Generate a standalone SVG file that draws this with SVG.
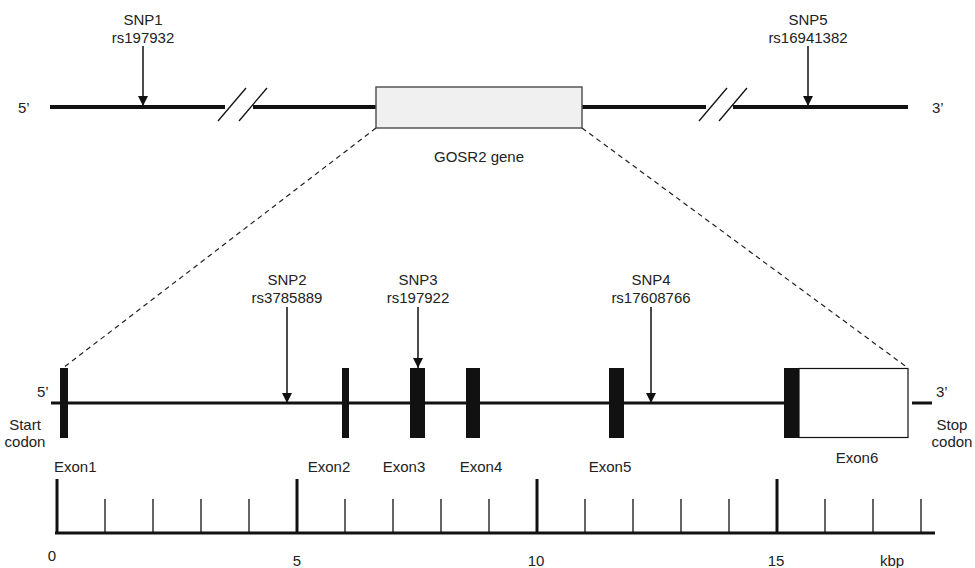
<svg xmlns="http://www.w3.org/2000/svg" width="975" height="568" viewBox="0 0 975 568">
<defs>
<marker id="ah" markerWidth="10" markerHeight="10" refX="10" refY="5" orient="auto" markerUnits="userSpaceOnUse" viewBox="0 0 10 10">
<path d="M0,0 L10,5 L0,10 Z" fill="#111"/>
</marker>
<style>
text{font-family:"Liberation Sans",Arial,sans-serif;font-size:15px;fill:#222}
.c{text-anchor:middle}
.thick{stroke:#111;stroke-width:4;fill:none}
.mid{stroke:#111;stroke-width:3;fill:none}
.thin{stroke:#111;stroke-width:1.3;fill:none}
.arrow{stroke:#111;stroke-width:1.5;fill:none}
.dash{stroke:#222;stroke-width:1.2;stroke-dasharray:5,4;fill:none}
.exon{fill:#111}
</style>
</defs>
<g id="chromosome">
<line class="thick" x1="50" y1="107" x2="225" y2="107"/>
<line class="thick" x1="253" y1="107" x2="376" y2="107"/>
<line class="thick" x1="582" y1="107" x2="706" y2="107"/>
<line class="thick" x1="733" y1="107" x2="908" y2="107"/>
<line class="thin" x1="218" y1="121" x2="246" y2="88"/>
<line class="thin" x1="239" y1="121" x2="267" y2="88"/>
<line class="thin" x1="699" y1="121" x2="727" y2="88"/>
<line class="thin" x1="719" y1="121" x2="747" y2="88"/>
<text x="18" y="113">5’</text>
<text x="932" y="113">3’</text>
</g>
<g id="gosr2-gene">
<rect x="376" y="87" width="206" height="41" fill="#f0f0f0" stroke="#555" stroke-width="1.5"/>
<text class="c" x="479" y="162">GOSR2 gene</text>
</g>
<g id="snp1">
<text class="c" x="143" y="25">SNP1</text>
<text class="c" x="143" y="43">rs197932</text>
</g>
<g id="snp5">
<text class="c" x="808" y="25">SNP5</text>
<text class="c" x="808" y="43">rs16941382</text>
</g>
<g id="gene-structure">
<line class="mid" x1="51" y1="403" x2="785" y2="403"/>
<line class="mid" x1="912" y1="403" x2="932" y2="403"/>
<text x="37" y="397">5’</text>
<text x="936" y="397">3’</text>
<text class="c" x="25" y="430">Start</text>
<text class="c" x="25" y="447">codon</text>
<text class="c" x="952" y="430">Stop</text>
<text class="c" x="952" y="447">codon</text>
</g>
<g id="exon1"><rect class="exon" x="60" y="368" width="8" height="70"/><text x="54" y="472">Exon1</text></g>
<g id="exon2"><rect class="exon" x="342" y="368" width="7" height="70"/><text class="c" x="329" y="472">Exon2</text></g>
<g id="exon3"><rect class="exon" x="410" y="368" width="15" height="70"/><text class="c" x="404" y="472">Exon3</text></g>
<g id="exon4"><rect class="exon" x="466" y="368" width="14" height="70"/><text class="c" x="481" y="472">Exon4</text></g>
<g id="exon5"><rect class="exon" x="609" y="368" width="15" height="70"/><text class="c" x="610" y="472">Exon5</text></g>
<g id="exon6"><rect class="exon" x="784" y="368" width="15" height="70"/><rect x="799" y="368.5" width="109" height="69" fill="#fff" stroke="#111" stroke-width="1.2"/><text class="c" x="857" y="463">Exon6</text></g>
<g id="snp2"><text class="c" x="287" y="285">SNP2</text><text class="c" x="287" y="303">rs3785889</text></g>
<g id="snp3"><text class="c" x="418" y="285">SNP3</text><text class="c" x="418" y="303">rs197922</text></g>
<g id="snp4"><text class="c" x="651" y="285">SNP4</text><text class="c" x="651" y="303">rs17608766</text></g>
<g id="scale">
<line class="mid" x1="55" y1="533" x2="935" y2="533"/>
<g class="mid">
<line x1="57" y1="479" x2="57" y2="533"/>
<line x1="297" y1="479" x2="297" y2="533"/>
<line x1="537" y1="479" x2="537" y2="533"/>
<line x1="777" y1="479" x2="777" y2="533"/>
</g>
<g class="thin">
<line x1="105" y1="499" x2="105" y2="533"/><line x1="153" y1="499" x2="153" y2="533"/><line x1="201" y1="499" x2="201" y2="533"/><line x1="249" y1="499" x2="249" y2="533"/>
<line x1="345" y1="499" x2="345" y2="533"/><line x1="393" y1="499" x2="393" y2="533"/><line x1="441" y1="499" x2="441" y2="533"/><line x1="489" y1="499" x2="489" y2="533"/>
<line x1="585" y1="499" x2="585" y2="533"/><line x1="633" y1="499" x2="633" y2="533"/><line x1="681" y1="499" x2="681" y2="533"/><line x1="729" y1="499" x2="729" y2="533"/>
<line x1="825" y1="499" x2="825" y2="533"/><line x1="873" y1="499" x2="873" y2="533"/><line x1="921" y1="499" x2="921" y2="533"/>
</g>
<text class="c" x="52" y="561">0</text>
<text class="c" x="297" y="566">5</text>
<text class="c" x="536" y="566">10</text>
<text class="c" x="776" y="566">15</text>
<text class="c" x="892" y="566">kbp</text>
</g>
<g id="connectors">
<line class="dash" x1="376" y1="128" x2="63" y2="368"/>
<line class="dash" x1="582" y1="128" x2="908" y2="368"/>
<line class="arrow" x1="143" y1="46" x2="143" y2="106" marker-end="url(#ah)"/>
<line class="arrow" x1="808" y1="46" x2="808" y2="106" marker-end="url(#ah)"/>
<line class="arrow" x1="287" y1="307" x2="287" y2="403" marker-end="url(#ah)"/>
<line class="arrow" x1="418" y1="307" x2="418" y2="368" marker-end="url(#ah)"/>
<line class="arrow" x1="651" y1="307" x2="651" y2="403" marker-end="url(#ah)"/>
</g>
</svg>
